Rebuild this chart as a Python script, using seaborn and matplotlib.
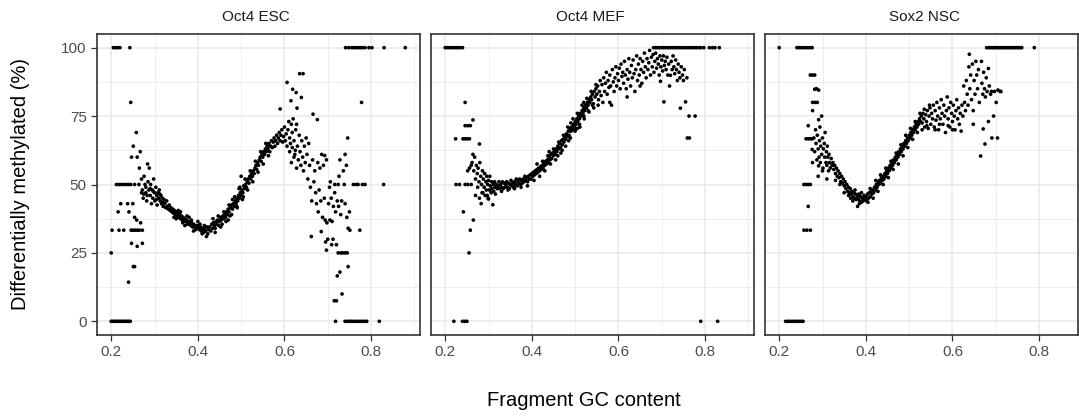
import matplotlib
matplotlib.use("Agg")
import matplotlib.pyplot as plt
import seaborn as sns
import pandas as pd
from matplotlib.ticker import FixedLocator

# ---------------- data ----------------
panels = ["Oct4 ESC", "Oct4 MEF", "Sox2 NSC"]

esc_points = [
    (0.205,100),(0.21,100),(0.215,100),(0.22,100),(0.243,100),
    (0.245,80),(0.258,69),(0.251,64),(0.247,60),(0.26,60),(0.267,62),
    (0.212,50),(0.218,50),(0.223,50),(0.229,50),(0.235,50),(0.24,50),(0.245,50),(0.254,50),(0.264,50),
    (0.222,43),(0.238,43),(0.25,43),(0.216,40),(0.241,40),(0.254,38),(0.259,37),
    (0.202,33.3),(0.218,33.3),(0.229,33.3),(0.246,33.3),(0.25,33.3),(0.255,33.3),(0.26,33.3),(0.265,33.3),(0.272,33.3),
    (0.268,36),(0.247,28.5),(0.272,28.5),(0.26,27.4),(0.2,25),(0.251,20),(0.254,20),(0.24,14.3),
    (0.2,0),(0.204,0),(0.208,0),(0.212,0),(0.216,0),(0.22,0),(0.224,0),(0.228,0),(0.232,0),(0.236,0),(0.24,0),(0.244,0),
    (0.265,56),(0.27,52),(0.272,48),(0.274,45),(0.276,53),(0.278,50),(0.28,47),(0.282,44),(0.284,57.5),(0.285,51),
    (0.287,48),(0.288,56),(0.29,46),(0.291,50),(0.293,43),(0.295,48),(0.296,45),(0.298,52),(0.3,47),(0.301,44),
    (0.303,49),(0.305,46),(0.306,42.5),(0.308,47),(0.31,45),(0.311,48),(0.313,44),(0.315,46),(0.316,43),(0.318,45),
    (0.32,42),(0.322,44.5),(0.324,43),(0.326,41.5),(0.328,44),(0.33,42),
    (0.27,47),(0.275,46.5),(0.28,49),(0.283,46),(0.29,48.5),(0.297,47.5),(0.304,44.5),(0.312,46.5),(0.319,43.5),
    (0.332,41),(0.334,42.5),(0.336,40.5),(0.338,41.5),(0.34,40),(0.342,41),(0.344,39.5),(0.346,40.5),(0.348,39),
    (0.35,40),(0.352,38.5),(0.354,39.5),(0.356,38),(0.358,39),(0.36,37.5),(0.362,38.5),(0.364,37),(0.366,38),
    (0.368,36.5),(0.37,37.5),(0.372,36.5),(0.374,37),(0.376,35.5),(0.378,36.5),(0.38,35.5),(0.382,36),(0.384,35),
    (0.386,36),(0.388,34.5),(0.39,35.5),(0.392,34.5),(0.394,35),(0.396,34),(0.398,35),(0.4,34),(0.402,35),
    (0.404,33.5),(0.406,34.5),(0.408,33),(0.41,34),(0.412,33.5),(0.414,32.5),(0.416,34),(0.418,33),(0.42,31),
    (0.421,34.5),(0.423,32),(0.425,33.5),
    (0.345,38),(0.355,40.5),(0.365,36),(0.375,38.5),(0.385,37),(0.395,33.5),(0.405,35.5),(0.415,35),
    (0.35,37.5),(0.36,40),(0.37,35),(0.38,38),(0.39,33),(0.4,36.5),(0.41,32),
    (0.427,34.5),(0.43,33),(0.432,35.5),(0.434,34),(0.436,36),(0.438,35),(0.44,34),(0.442,36.5),(0.444,35.5),
    (0.446,37),(0.448,35),(0.45,36.5),(0.452,38),(0.454,37),(0.456,35.5),(0.458,38.5),(0.46,37.5),(0.462,39),
    (0.464,38),(0.466,40),(0.468,39),(0.47,41),(0.472,40),(0.474,38.5),(0.476,41.5),(0.478,42.5),(0.48,41),
    (0.482,43),(0.484,42),(0.486,44),(0.488,43),(0.49,45),(0.492,44),(0.494,46),(0.496,45),(0.498,47),(0.5,46),
    (0.502,48),(0.5,53),(0.504,47),(0.506,49.5),(0.508,48.5),(0.51,50),(0.512,49),(0.514,51),(0.516,52),
    (0.518,50.5),(0.52,53),(0.522,52),(0.524,54),(0.526,53),(0.528,55),(0.53,54),(0.532,56),(0.534,57),
    (0.536,55.5),(0.538,58),(0.54,57),(0.542,59),(0.544,60),(0.546,58.5),(0.548,61),(0.55,60),(0.552,62),
    (0.554,61),(0.556,63),(0.558,62),(0.56,64),
    (0.47,37),(0.48,44.5),(0.49,42),(0.495,48.5),(0.505,45.5),
    (0.435,37.5),(0.44,32.5),(0.447,38.5),(0.453,34.5),(0.46,40),(0.465,36.5),(0.472,42.5),(0.478,39),
    (0.485,45.5),(0.491,41.5),(0.497,49),(0.503,44.5),(0.509,52),(0.515,48),(0.521,55),(0.527,51),
    (0.533,58.5),(0.539,54.5),(0.545,62),(0.551,57.5),(0.557,65),(0.563,60.5),
    (0.562,63),(0.564,65),(0.566,62),(0.568,64),(0.57,66),(0.572,63.5),(0.574,65.5),(0.576,67),(0.578,64),
    (0.58,66),(0.582,68),(0.584,65),(0.586,67),(0.588,69),(0.59,66),(0.59,77.6),(0.592,68),(0.594,70),
    (0.596,65.5),(0.598,67.5),(0.6,71),(0.602,66),(0.604,68.5),(0.606,64),(0.606,87.3),(0.608,70),(0.61,73),
    (0.612,67),(0.614,65),(0.615,80.6),(0.616,72),(0.618,69),(0.619,84.8),(0.62,74),(0.622,66),(0.624,61),
    (0.626,70),(0.627,83.6),(0.628,72),(0.629,77.9),(0.63,64),(0.632,59),(0.634,68),(0.635,90.5),(0.636,62),
    (0.638,57),(0.639,81.8),(0.64,66),(0.642,60),(0.643,90.5),(0.644,55),(0.646,64),(0.648,58),(0.65,67),
    (0.612,62),(0.618,63.5),(0.622,60),(0.616,58),(0.628,56),(0.625,62.5),
    (0.652,61),(0.654,52),(0.656,65),(0.658,57),(0.66,49),(0.662,31),(0.663,44),(0.665,59),(0.666,75.7),
    (0.668,51),(0.67,55),(0.672,47),(0.674,43),(0.676,73.7),(0.677,58),(0.678,40),(0.68,48),(0.682,56),
    (0.684,44),(0.685,32.8),(0.686,61),(0.688,38),(0.69,57),(0.692,45),(0.693,60.6),(0.694,37),(0.695,29),
    (0.697,59),(0.697,26),(0.698,36),(0.7,30),(0.702,43),(0.704,49),(0.705,37),(0.706,51),(0.708,45),
    (0.709,28),(0.71,36.5),(0.712,30),(0.713,42),(0.715,7.5),(0.716,47),(0.718,0),(0.718,40),(0.72,28),
    (0.72,7.5),(0.722,16.6),(0.722,44),(0.724,25),(0.725,42),(0.726,53),(0.728,18),(0.728,59),(0.73,25),
    (0.73,39),(0.732,44),(0.733,10),(0.735,25),(0.736,55),(0.738,50),(0.74,25),(0.74,61),(0.74,43),
    (0.743,57),(0.744,38),(0.745,25),(0.746,67),(0.747,20),(0.747,34),(0.75,40),(0.751,33.3),(0.774,33.3),
    (0.778,80),
    (0.716,50),(0.724,50),(0.759,50),(0.765,50),(0.77,50),(0.78,50),(0.786,50),(0.829,50),
    (0.74,0),(0.746,0),(0.75,0),(0.755,0),(0.76,0),(0.765,0),(0.77,0),(0.775,0),(0.78,0),(0.785,0),(0.79,0),(0.819,0),
    (0.741,100),(0.748,100),(0.755,100),(0.76,100),(0.765,100),(0.77,100),(0.775,100),(0.78,100),(0.786,100),
    (0.795,100),(0.802,100),(0.83,100),(0.879,100),
]

mef_points = [
    (0.2,100),(0.205,100),(0.21,100),(0.215,100),(0.22,100),(0.225,100),(0.23,100),(0.235,100),(0.24,100),
    (0.22,0),(0.24,0),(0.245,0),(0.25,0),
    (0.246,80),(0.264,73.6),(0.246,71.5),(0.252,71.5),(0.258,71.5),
    (0.224,66.7),(0.241,66.7),(0.246,66.7),(0.251,66.7),(0.256,66.7),
    (0.279,64.8),(0.264,61),(0.252,55),(0.26,57),(0.256,56),
    (0.225,50),(0.233,50),(0.246,50),(0.252,50),(0.26,50),
    (0.242,40),(0.265,37),(0.258,33.3),(0.255,25),
    (0.262,58),(0.266,55),(0.268,60),(0.27,52),(0.272,57),(0.274,54),(0.275,49),(0.276,56),(0.278,51),
    (0.279,45),(0.28,58),(0.282,53),(0.283,43),(0.284,50),(0.286,55),(0.287,47),(0.288,52),(0.29,49),
    (0.291,54),(0.292,46),(0.294,51),(0.295,48),(0.296,53),(0.298,50),(0.299,45),(0.3,51.5),(0.302,48),
    (0.303,53),(0.304,49.5),(0.306,47),(0.307,51),(0.308,48.5),(0.31,42.6),(0.311,50),(0.312,47.5),
    (0.314,51),(0.315,49),(0.316,46.5),(0.318,50),(0.32,48.5),(0.3,44.7),(0.27,46),(0.285,47),(0.297,46),
    (0.322,49.5),(0.324,51),(0.326,48.5),(0.328,50),(0.33,49),(0.332,51),(0.334,48.5),(0.336,50.5),
    (0.338,49),(0.34,50),(0.342,51),(0.344,49),(0.346,50.5),(0.348,48.5),(0.35,50),(0.352,51.5),
    (0.354,49.5),(0.356,50.5),(0.358,49),(0.36,51),(0.362,50),(0.364,52),(0.366,49.5),(0.368,51),
    (0.37,50.5),(0.372,52),(0.374,50),(0.376,51.5),(0.378,50.5),(0.38,52),(0.382,51),(0.384,53),
    (0.386,51.5),(0.388,52.5),(0.39,51),(0.392,53),(0.394,52),(0.396,53.5),(0.398,52),(0.4,54),
    (0.33,47.5),(0.345,48),(0.36,48.5),(0.375,49),(0.39,49.5),
    (0.402,53),(0.404,54.5),(0.406,53.5),(0.408,55),(0.41,54),(0.412,55.5),(0.414,54.5),(0.416,56),
    (0.418,55),(0.42,56.5),(0.422,55.5),(0.424,57),(0.426,56),(0.428,58),(0.43,57),(0.432,58.5),
    (0.434,57.5),(0.436,59),(0.438,58),(0.44,60),(0.442,59),(0.444,61),(0.446,59.5),(0.448,61.5),
    (0.45,60.5),(0.452,62),(0.454,61),(0.456,63),(0.458,62),(0.46,64),(0.462,63),(0.464,65),
    (0.466,63.5),(0.468,66),(0.47,64.5),(0.472,66.5),(0.474,65.5),(0.476,67.5),(0.478,66.5),(0.48,68.5),
    (0.482,67.5),(0.484,69.5),(0.486,68),(0.488,70.5),(0.49,69.5),(0.492,71),(0.494,70),(0.496,72),
    (0.498,71),(0.5,73),(0.502,72),(0.504,74),(0.506,73),(0.508,75),(0.51,74),(0.512,76),(0.514,75),
    (0.516,77),(0.518,76),(0.52,78),(0.522,77),(0.524,79),(0.526,78),(0.528,80),(0.53,79),(0.532,81),
    (0.534,80),(0.536,82),(0.538,81),(0.54,83),(0.542,79.5),(0.544,84),(0.546,82),(0.548,85),(0.55,83),
    (0.47,62.5),(0.485,66),(0.5,70),(0.51,72),(0.52,75),(0.53,77),(0.54,79),
    (0.405,51.5),(0.412,57.5),(0.418,53),(0.425,58.5),(0.43,55),(0.437,60.5),(0.443,57.5),(0.45,63),
    (0.455,59),(0.462,65.5),(0.467,61.5),(0.473,68),(0.478,64),(0.483,71),(0.489,67),(0.495,74),
    (0.5,69.5),(0.505,76),(0.511,71),(0.516,79),(0.521,74),(0.527,81.5),(0.532,76.5),(0.537,84),
    (0.543,78),(0.548,86.5),(0.553,79),(0.52,80),(0.505,70.5),(0.49,72.5),(0.46,60.5),(0.44,62),
    (0.552,86),(0.554,81),(0.556,84),(0.558,88),(0.56,82.5),(0.562,86.5),(0.564,80),(0.566,89),(0.568,84),
    (0.57,87),(0.572,91),(0.574,83),(0.576,88),(0.578,85.5),(0.58,90),(0.582,86),(0.584,79),(0.586,92),
    (0.588,87.5),(0.59,84),(0.592,89),(0.594,93),(0.596,86),(0.598,90.5),(0.6,88),(0.602,92.5),(0.604,85),
    (0.606,94),(0.608,89.5),(0.61,91),(0.612,87),(0.614,95),(0.616,90),(0.618,85),(0.62,92),(0.622,88.5),
    (0.624,96),(0.626,91),(0.628,86),(0.63,93.5),(0.632,89),(0.634,95.5),(0.636,90.5),(0.638,84),(0.64,92),
    (0.642,97),(0.644,88),(0.646,94),(0.648,90),(0.65,96),(0.652,92),(0.654,87),(0.656,95),(0.658,91),
    (0.66,98),(0.662,93),(0.664,89),(0.666,96),(0.668,92),(0.67,94.5),(0.672,99),(0.674,90),(0.676,96.5),
    (0.678,93),(0.68,97.5),(0.682,91),(0.684,95),(0.686,98),(0.688,92.5),(0.69,96),(0.692,94),(0.694,90),
    (0.696,97),(0.697,87.7),(0.698,93),(0.7,95.5),(0.702,91.5),(0.704,97),(0.705,80.2),(0.706,93.5),
    (0.708,95),(0.71,92),(0.712,96.5),(0.714,90),(0.716,94),(0.718,86),(0.72,89.9),(0.722,95),(0.724,92),
    (0.726,97),(0.728,93),(0.73,90.5),(0.732,95.5),(0.734,92),(0.736,88),(0.738,94),(0.74,91),(0.742,89),
    (0.743,77.9),(0.745,93),(0.748,90),(0.75,88),(0.752,92),(0.755,80.2),(0.758,89),(0.759,67),(0.763,75),
    (0.764,67),(0.777,75),(0.62,82),(0.58,80),(0.65,86),
    (0.681,100),(0.686,100),(0.69,100),(0.695,100),(0.7,100),(0.705,100),(0.71,100),(0.715,100),(0.72,100),
    (0.725,100),(0.73,100),(0.735,100),(0.74,100),(0.745,100),(0.75,100),(0.755,100),(0.76,100),(0.765,100),
    (0.77,100),(0.775,100),(0.78,100),(0.785,100),(0.79,100),(0.797,100),(0.81,100),(0.817,100),(0.823,100),
    (0.833,100),
    (0.79,0),(0.829,0),
]

nsc_points = [
    (0.2,100),(0.241,100),(0.246,100),(0.251,100),(0.256,100),(0.261,100),(0.266,100),(0.271,100),(0.276,100),
    (0.215,0),(0.22,0),(0.225,0),(0.23,0),(0.235,0),(0.24,0),(0.245,0),(0.25,0),(0.255,0),
    (0.272,90),(0.277,90),(0.282,90),(0.282,84.8),(0.286,85),(0.291,84.5),(0.277,80),(0.283,80),(0.288,80),
    (0.277,77),(0.291,73.7),(0.298,75),(0.267,71.5),
    (0.262,66.7),(0.267,66.7),(0.272,66.7),(0.276,66.7),
    (0.276,62.8),(0.277,58),(0.291,56.8),
    (0.257,50),(0.262,50),(0.267,50),(0.272,50),
    (0.267,42),(0.257,33.3),(0.264,33.3),(0.272,33.3),
    (0.28,67),(0.282,62),(0.284,70),(0.285,65),(0.287,59),(0.288,68),(0.29,63),(0.292,60),(0.293,66),
    (0.294,71),(0.295,58),(0.296,64),(0.298,61),(0.3,67),(0.301,56),(0.302,63),(0.304,65),(0.305,60),
    (0.306,69),(0.308,58),(0.309,62),(0.31,57),(0.311,64),(0.312,60),(0.314,55),(0.315,61),(0.316,58),
    (0.318,56),(0.32,59.5),(0.322,57),(0.29,53),(0.3,55),(0.31,52),
    (0.324,58),(0.326,55.5),(0.328,57),(0.33,54),(0.332,56),(0.334,53),(0.336,55),(0.338,52.5),(0.34,54),
    (0.342,51),(0.344,53),(0.346,50.5),(0.348,52),(0.35,49.5),(0.352,51),(0.354,48.5),(0.356,50),
    (0.358,47.5),(0.36,49),(0.362,47),(0.364,48.5),(0.366,46.5),(0.368,47.5),(0.37,45.5),(0.372,47),
    (0.374,45),(0.376,46.5),(0.378,44.5),(0.38,46),(0.381,42),(0.382,45),(0.384,46.5),(0.386,44),
    (0.388,45.5),(0.39,43.5),(0.392,45),(0.394,44),(0.396,46),(0.398,44.5),(0.4,45.5),
    (0.34,50),(0.35,47),(0.36,46),(0.37,44),(0.33,51.5),(0.39,47),(0.385,43),(0.375,48),(0.365,45),
    (0.402,44),(0.404,46.5),(0.406,45),(0.408,47),(0.41,45.5),(0.412,47.5),(0.414,46.5),(0.416,48),
    (0.418,47),(0.42,49),(0.422,48),(0.424,50),(0.426,49),(0.428,51),(0.43,50),(0.432,51.5),(0.434,50.5),
    (0.436,52.5),(0.438,51.5),(0.44,53),(0.442,52),(0.444,54),(0.446,53),(0.448,55),(0.45,54),(0.452,56),
    (0.454,55),(0.456,57),(0.458,56),(0.46,58),(0.462,57),(0.464,59),(0.466,58),(0.468,60),(0.47,59),
    (0.472,61),(0.474,60),(0.476,62),(0.478,61),(0.48,63),(0.482,62),(0.484,64),(0.486,63),(0.488,65),
    (0.49,64),(0.492,66),(0.494,65),(0.496,67),(0.498,66),(0.5,68),(0.502,67),(0.504,69),(0.506,68),
    (0.508,70),(0.51,69),(0.512,71),(0.514,70),(0.516,72),(0.518,71),(0.52,73),(0.522,72),(0.524,74),
    (0.526,73),(0.528,75),(0.53,72.5),(0.532,76),(0.534,74),(0.536,71),(0.538,75.5),(0.54,73),(0.542,77),
    (0.544,70.5),(0.546,75),(0.548,78),(0.55,72),
    (0.405,43.5),(0.41,48.5),(0.417,45),(0.423,51.5),(0.428,47.5),(0.434,53.5),(0.44,50),(0.446,56),
    (0.452,52.5),(0.458,58.5),(0.463,55.5),(0.47,61.5),(0.475,57.5),(0.481,64.5),(0.486,60.5),(0.492,68),
    (0.497,63.5),(0.503,70.5),(0.508,66.5),(0.514,73),(0.519,69),(0.525,76),(0.53,70),(0.535,77.5),
    (0.541,71.5),(0.547,79),
    (0.552,76),(0.554,74),(0.556,79),(0.558,71),(0.56,77),(0.562,73.5),(0.564,80),(0.566,75),(0.568,70),
    (0.57,78),(0.572,74),(0.574,81),(0.576,76),(0.578,72),(0.58,79),(0.582,75),(0.584,69),(0.586,77),
    (0.588,82),(0.59,74),(0.592,78),(0.594,71),(0.596,80),(0.598,76),(0.6,73),(0.602,79),(0.604,75),
    (0.606,70),(0.608,77),(0.61,81),(0.612,74),(0.614,78),(0.616,72),(0.618,76),(0.62,69.5),(0.622,79),
    (0.624,75),(0.626,86),(0.628,80),(0.63,77),(0.632,88),(0.634,83),(0.636,79),(0.638,93),(0.639,97.6),
    (0.64,85),(0.642,90),(0.644,81),(0.646,94),(0.648,77),(0.648,72),(0.65,88),(0.652,83),(0.654,95),
    (0.656,90),(0.658,85),(0.66,92),(0.662,80),(0.665,60.4),(0.667,95),(0.668,87),(0.67,83),(0.671,70.3),
    (0.672,91),(0.674,85),(0.675,64.8),(0.676,82),(0.678,89),(0.68,84),(0.683,92.4),(0.683,73),(0.685,86),
    (0.688,83),(0.69,84),(0.691,67),(0.695,75),(0.697,84),(0.701,80),(0.704,67),(0.705,84.5),(0.71,84),
    (0.712,84),(0.6,70),(0.59,71.5),(0.57,72),(0.56,70),
    (0.679,100),(0.684,100),(0.688,100),(0.692,100),(0.696,100),(0.7,100),(0.704,100),(0.708,100),
    (0.712,100),(0.716,100),(0.72,100),(0.724,100),(0.728,100),(0.732,100),(0.736,100),(0.74,100),
    (0.744,100),(0.748,100),(0.752,100),(0.756,100),(0.76,100),(0.789,100),
]

x_ticks = [0.2, 0.4, 0.6, 0.8]
y_ticks = [0, 25, 50, 75, 100]
x_title = "Fragment GC content"
y_title = "Differentially methylated (%)"

# ---------------- build table ----------------
frames = []
for name, pts in zip(panels, [esc_points, mef_points, nsc_points]):
    d = pd.DataFrame(pts, columns=["gc", "pct"])
    d["panel"] = name
    frames.append(d)
df = pd.concat(frames, ignore_index=True)

# ---------------- style ----------------
sns.set_theme(style="white")
plt.rcParams["font.family"] = ["Liberation Sans", "DejaVu Sans"]

W, H = 1079, 416
fig = plt.figure(figsize=(W / 100, H / 100), dpi=100)

panel_left = [96.5, 430.5, 764.5]
panel_w = 323.5
right_edge = 1078.0
top_px, bot_px = 34, 335

xlo = min(df["gc"].min(), 0.2)
xhi = df["gc"].max()
xr = xhi - xlo
xlim = (xlo - 0.05 * xr, xhi + 0.05 * xr)
px_per_unit = panel_w / (xlim[1] - xlim[0])
ylim = (-5, 105)

grid_c = "#EBEBEB"
for i, name in enumerate(panels):
    left_px = panel_left[i]
    w_px = min(panel_w, right_edge - left_px)
    ax = fig.add_axes([left_px / W, 1 - bot_px / H, w_px / W, (bot_px - top_px) / H])
    sub = df[df["panel"] == name]
    sns.scatterplot(data=sub, x="gc", y="pct", ax=ax, color="black", s=7,
                    linewidth=0, edgecolor="none", zorder=3)
    ax.set_xlim(xlim[0], xlim[0] + w_px / px_per_unit)
    ax.set_ylim(*ylim)
    ax.xaxis.set_major_locator(FixedLocator(x_ticks))
    ax.xaxis.set_minor_locator(FixedLocator([0.1, 0.3, 0.5, 0.7, 0.9]))
    ax.yaxis.set_major_locator(FixedLocator(y_ticks))
    ax.yaxis.set_minor_locator(FixedLocator([12.5, 37.5, 62.5, 87.5]))
    ax.grid(which="major", color=grid_c, linewidth=1.2, zorder=0)
    ax.grid(which="minor", color=grid_c, linewidth=0.6, zorder=0)
    ax.set_axisbelow(True)
    for sp in ax.spines.values():
        sp.set_visible(True)
        sp.set_color("#333333")
        sp.set_linewidth(1.2)
    ax.tick_params(axis="both", which="major", length=4, width=0.9, color="#333333",
                   labelcolor="#4D4D4D", labelsize=11, pad=3, direction="out",
                   bottom=True, left=(i == 0))
    ax.tick_params(which="minor", length=0)
    ax.set_xticklabels([f"{t:.1f}" for t in x_ticks])
    if i == 0:
        ax.set_yticklabels([str(t) for t in y_ticks])
    else:
        ax.set_yticklabels([])
    ax.set_xlabel("")
    ax.set_ylabel("")
    ax.set_facecolor("white")
    fig.text((left_px + panel_w / 2 - 2) / W, 1 - 17 / H, name, ha="center", va="center",
             fontsize=11, color="#1A1A1A")

fig.text(584 / W, 1 - 401 / H, x_title, ha="center", va="center", fontsize=14.5, color="black")
fig.text(21 / W, 1 - ((top_px + bot_px) / 2) / H, y_title, rotation=90,
         ha="center", va="center", fontsize=14.5, color="black")

fig.savefig("out.png", dpi=100, facecolor="white")
